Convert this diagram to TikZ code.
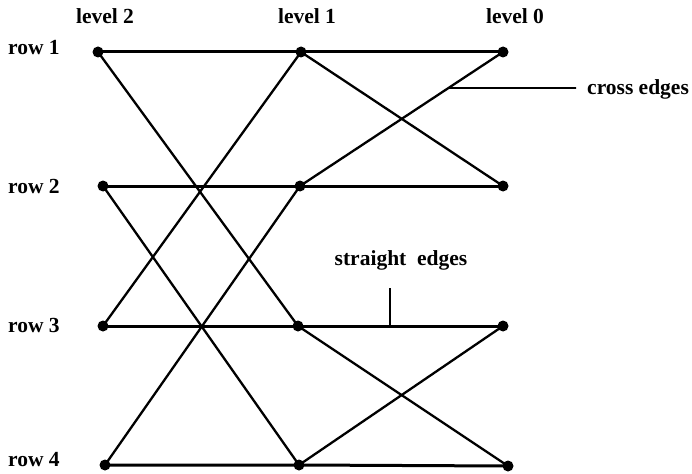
\documentclass[tikz,border=0pt]{standalone}
\usepackage{fontspec}
\setmainfont{Liberation Serif}
\usetikzlibrary{calc}
\begin{document}
\begin{tikzpicture}[x=1pt,y=1pt,
  dot/.style={circle,fill=black,inner sep=0pt,minimum size=11pt},
  edge/.style={line width=3pt},
  xedge/.style={line width=2.3pt},
  pointer/.style={line width=1.8pt},
  lbl/.style={font=\fontsize{21.5}{24}\selectfont\bfseries,inner sep=0pt}]
\useasboundingbox (0,0) rectangle (692,-473);
% nodes
\node[dot] (a1) at (98,-52) {};
\node[dot] (a2) at (103,-186) {};
\node[dot] (a3) at (103,-326) {};
\node[dot] (a4) at (105,-465) {};
\node[dot] (b1) at (301,-52) {};
\node[dot] (b2) at (300,-186) {};
\node[dot] (b3) at (298,-326) {};
\node[dot] (b4) at (299,-465) {};
\node[dot] (c1) at (503,-52) {};
\node[dot] (c2) at (503,-186) {};
\node[dot] (c3) at (503,-326) {};
\node[dot] (c4) at (508,-466) {};
% straight edges
\foreach \r in {1,2,3,4} {
  \draw[edge] (a\r.center) -- (b\r.center) -- (c\r.center);
}
% cross edges
\draw[xedge] (a1.center) -- (b3.center);
\draw[xedge] (a3.center) -- (b1.center);
\draw[xedge] (a2.center) -- (b4.center);
\draw[xedge] (a4.center) -- (b2.center);
\draw[xedge] (b1.center) -- (c2.center);
\draw[xedge] (b2.center) -- (c1.center);
\draw[xedge] (b3.center) -- (c4.center);
\draw[xedge] (b4.center) -- (c3.center);
% labels
\node[lbl,anchor=base] (l2) at (105,-24) {level 2};
\node[lbl,anchor=base] (l1) at (307,-24) {level 1};
\node[lbl,anchor=base] (l0) at (515,-24) {level 0};
\node[lbl,anchor=base west] (r1) at (8,-55) {row 1};
\node[lbl,anchor=base west] (r2) at (8,-193) {row 2};
\node[lbl,anchor=base west] (r3) at (8,-332) {row 3};
\node[lbl,anchor=base west] (r4) at (8,-466) {row 4};
% pointers
\coordinate (ce) at ($(b2.center)!0.731!(c1.center)$);
\coordinate (cee) at (576,-88);
\draw[pointer] (ce) -- (cee);
\node[lbl,anchor=base west] (cel) at (587,-95) {cross edges};
\coordinate (se) at (390,-326);
\coordinate (see) at (390,-288);
\draw[pointer] (se) -- (see);
\node[lbl,anchor=base] (sel) at (401,-265) {straight\ \ edges};
\end{tikzpicture}
\end{document}
